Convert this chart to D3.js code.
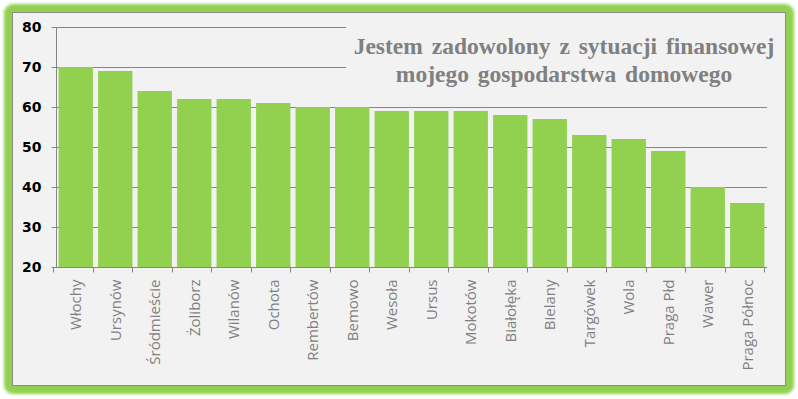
<!DOCTYPE html>
<html>
<head>
<meta charset="utf-8">
<script src="https://cdn.jsdelivr.net/npm/d3@7"></script>
<style>
  body { margin: 0; background: #fff; }
  svg { display: block; }
</style>
</head>
<body>
<div id="app"></div>
<script>
var districts = ["Włochy","Ursynów","Śródmieście","Żoliborz","Wilanów","Ochota","Rembertów","Bemowo","Wesoła","Ursus","Mokotów","Białołęka","Bielany","Targówek","Wola","Praga Płd","Wawer","Praga Północ"]
var values = [70,69,64,62,62,61,60,60,59,59,59,58,57,53,52,49,40,36]
var yTicks = [20,30,40,50,60,70,80]
var titleLines = ["Jestem zadowolony z sytuacji finansowej","mojego gospodarstwa domowego"]

var W = 798, H = 399
var svg = d3.select("#app").append("svg").attr("width",W).attr("height",H)

// green glowing frame
var defs = svg.append("defs")
defs.append("filter").attr("id","glow").attr("x","-5%").attr("y","-5%").attr("width","110%").attr("height","110%")
  .append("feGaussianBlur").attr("stdDeviation",1.6)
svg.append("rect").attr("x",4).attr("y",4).attr("width",790).attr("height",390).attr("rx",9)
  .attr("fill","#92d050").attr("filter","url(#glow)")
svg.append("rect").attr("x",12.5).attr("y",12.5).attr("width",773).attr("height",373)
  .attr("fill","#f2f2f2").attr("stroke","#8c8c8c").attr("stroke-width",1)

var margin = {left:56, top:27, right:31, bottom:132}
var x = d3.scaleBand().domain(districts).range([margin.left, W-margin.right]).paddingInner(0.13).paddingOuter(0.065)
var y = d3.scaleLinear().domain([20,80]).range([H-margin.bottom, margin.top])

// grid
svg.append("g").selectAll("line").data(yTicks.slice(1)).enter().append("line")
  .attr("x1",margin.left).attr("x2",W-margin.right)
  .attr("y1",d=>Math.round(y(d))+0.5).attr("y2",d=>Math.round(y(d))+0.5)
  .attr("stroke","#868686").attr("stroke-width",1)

// title background hides grid
svg.append("rect").attr("x",346).attr("y",20).attr("width",438).attr("height",72).attr("fill","#f2f2f2")
svg.append("g").selectAll("text").data(titleLines).enter().append("text")
  .attr("x",564).attr("y",(d,i)=>54+i*28).attr("text-anchor","middle")
  .attr("font-family","'Liberation Serif','Times New Roman',serif").attr("font-weight","bold")
  .attr("font-size",23.5).attr("fill","#808080").attr("word-spacing",3)
  .text(d=>d)

// bars
svg.append("g").selectAll("rect").data(values).enter().append("rect")
  .attr("x",(d,i)=>x(districts[i])).attr("width",x.bandwidth())
  .attr("y",d=>y(d)).attr("height",d=>y(20)-y(d))
  .attr("fill","#92d050")

// y axis
var yAxis = svg.append("g").attr("transform","translate("+(margin.left+0.5)+",0)")
  .call(d3.axisLeft(y).tickValues(yTicks).tickSize(5).tickPadding(10))
yAxis.selectAll("path,line").attr("stroke","#868686")
yAxis.select(".domain").attr("d","M0,"+y(20)+"V"+y(80))
yAxis.selectAll("text").attr("font-family","'DejaVu Sans',Verdana,sans-serif").attr("font-weight","bold")
  .attr("font-size",14).attr("fill","#000")

// x axis
var xAxis = svg.append("g").attr("transform","translate(0,"+(y(20)+0.5)+")")
  .call(d3.axisBottom(x).tickSize(0).tickPadding(0))
xAxis.select(".domain").attr("stroke","#868686").attr("d","M"+margin.left+",0H"+(W-margin.right))
// boundary ticks between categories
var step = x.step()
var bounds = d3.range(districts.length+1).map(i=>x(districts[0]) - x.paddingOuter()*step - x.paddingInner()*step/2 + i*step)
xAxis.selectAll(".bt").data(bounds).enter().append("line").attr("class","bt")
  .attr("x1",d=>Math.round(d)+0.5).attr("x2",d=>Math.round(d)+0.5).attr("y1",0).attr("y2",5).attr("stroke","#868686")
xAxis.selectAll(".tick text")
  .attr("transform","translate(0,12) rotate(-90)")
  .attr("text-anchor","end").attr("dy","0.35em").attr("x",0).attr("y",0)
  .attr("font-family","'Open Sans','DejaVu Sans',sans-serif").attr("font-size",15).attr("fill","#7f7f7f")
</script>
</body>
</html>
